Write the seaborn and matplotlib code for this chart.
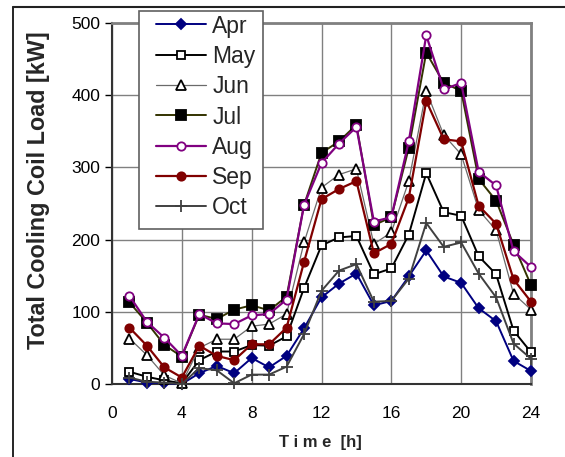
import matplotlib
matplotlib.use("Agg")
import matplotlib.pyplot as plt
import seaborn as sns
import pandas as pd
from matplotlib.lines import Line2D
from matplotlib.patches import Rectangle

hours = list(range(1, 25))
apr = [7, 2, 1, 0, 15, 25, 15, 36, 23, 39, 77, 120, 139, 153, 109, 115, 149, 185, 149, 140, 105, 87, 32, 18]
may = [17, 10, 5, 1, 33, 45, 45, 54, 53, 66, 133, 192, 203, 205, 152, 160, 207, 292, 238, 233, 177, 152, 74, 44]
jun = [63, 40, 12, 1, 50, 62, 62, 80, 83, 97, 196, 272, 290, 298, 194, 210, 281, 406, 345, 318, 241, 213, 125, 103]
jul = [113, 85, 54, 38, 96, 90, 103, 109, 102, 121, 248, 320, 336, 359, 220, 231, 327, 459, 417, 406, 284, 254, 193, 137]
aug = [122, 86, 64, 39, 97, 84, 83, 95, 97, 117, 248, 306, 333, 356, 225, 231, 336, 483, 408, 417, 294, 275, 184, 162]
sep = [78, 53, 23, 9, 53, 39, 33, 55, 55, 78, 169, 256, 270, 281, 181, 194, 258, 392, 339, 336, 247, 222, 145, 114]
oct_ = [9, 3, 2, 0, 22, 19, 1, 13, 13, 24, 69, 129, 157, 166, 114, 115, 146, 223, 190, 196, 153, 120, 56, 35]

months = ["Apr", "May", "Jun", "Jul", "Aug", "Sep", "Oct"]
series = [apr, may, jun, jul, aug, sep, oct_]

x_ticks = [0, 4, 8, 12, 16, 20, 24]
y_ticks = [0, 100, 200, 300, 400, 500]

styles = {
    "Apr": dict(color="#000080", marker="D", mfc="#000080", mec="#000080", lw=1.4, ms=5.5),
    "May": dict(color="#000000", marker="s", mfc="white", mec="#000000", lw=1.4, ms=6),
    "Jun": dict(color="#6a6a6a", marker="^", mfc="white", mec="#000000", lw=0.9, ms=7),
    "Jul": dict(color="#333300", marker="s", mfc="#000000", mec="#000000", lw=1.4, ms=7.5),
    "Aug": dict(color="#800080", marker="o", mfc="white", mec="#800080", lw=1.6, ms=6),
    "Sep": dict(color="#800000", marker="o", mfc="#800000", mec="#800000", lw=1.6, ms=6),
    "Oct": dict(color="#404040", marker="+", mfc="#404040", mec="#404040", lw=1.4, ms=9),
}

sns.set_theme(style="white")
plt.rcParams["font.family"] = ["Liberation Sans", "DejaVu Sans"]

W, H = 565, 457
fig = plt.figure(figsize=(W / 100, H / 100), dpi=100)
ax = fig.add_axes([112 / W, 1 - 384 / H, (531 - 112) / W, (384 - 23) / H])

handles = []
for m, vals in zip(months, series):
    st = styles[m]
    df = pd.DataFrame({"h": hours, "v": vals})
    sns.lineplot(data=df, x="h", y="v", ax=ax, color=st["color"], lw=st["lw"],
                 marker=st["marker"], markersize=st["ms"], markerfacecolor=st["mfc"],
                 markeredgecolor=st["mec"], markeredgewidth=1.3, zorder=3, clip_on=False)
    handles.append(Line2D([], [], color=st["color"], lw=st["lw"], marker=st["marker"],
                          markersize=st["ms"], markerfacecolor=st["mfc"],
                          markeredgecolor=st["mec"], markeredgewidth=1.3))

ax.set_xlim(0, 24)
ax.set_ylim(0, 500)
ax.set_xticks(x_ticks)
ax.set_yticks(y_ticks)
ax.tick_params(axis="y", labelsize=12.5, colors="#000000", length=5, width=1,
               direction="out", left=True, pad=3.5)
ax.tick_params(axis="x", labelsize=12.5, colors="#000000", length=0, pad=16)
ax.grid(True, color="#808080", lw=1)
ax.set_axisbelow(True)
for s in ["top", "right"]:
    ax.spines[s].set_color("#808080")
    ax.spines[s].set_linewidth(2)
for s in ["left", "bottom"]:
    ax.spines[s].set_color("#333333")
    ax.spines[s].set_linewidth(1.5)

ax.set_xlabel("")
ax.set_ylabel("")
fig.text(320 / W, 1 - 443 / H, "T i m e  [h]", fontsize=12, fontweight="bold",
         ha="center", va="center")
fig.text(39 / W, 1 - 190 / H, "Total Cooling Coil Load [kW]", fontsize=16.8, fontweight="bold",
         ha="center", va="center", rotation=90)

# legend box frame
ax.add_patch(Rectangle((139 / W, 1 - 229 / H), (263 - 139) / W, (229 - 11) / H,
                       transform=fig.transFigure, facecolor="white", edgecolor="#606060",
                       lw=1.2, zorder=4, clip_on=False))
leg = ax.legend(handles, months, loc="upper left", bbox_to_anchor=(156 / W, 1 - 14.5 / H),
                bbox_transform=fig.transFigure, fontsize=16.5, frameon=False,
                handlelength=2.2, handletextpad=0.25,
                labelspacing=0.32, borderpad=0, borderaxespad=0)
leg.set_zorder(5)

fig.add_artist(Line2D([12.5 / W, 12.5 / W], [0, 1 - 7 / H], transform=fig.transFigure,
                      color="black", lw=1.2))
fig.add_artist(Line2D([12.5 / W, 1], [1 - 7 / H, 1 - 7 / H], transform=fig.transFigure,
                      color="#222222", lw=1.5))

fig.savefig("out.png", dpi=100)
